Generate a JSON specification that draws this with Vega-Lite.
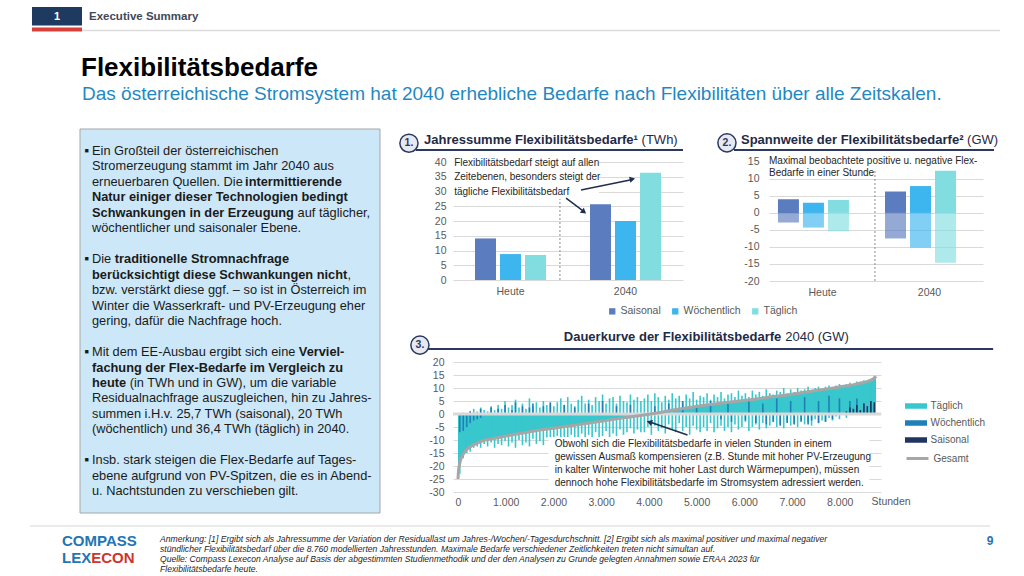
{
  "$schema": "https://vega.github.io/schema/vega-lite/v6.json",
  "padding": 0,
  "background": "white",
  "spacing": 0,
  "config": {
    "font": "Liberation Sans",
    "view": {"stroke": null},
    "locale": {"number": {"decimal": ",", "thousands": ".", "grouping": [3], "currency": ["", " €"], "minus": "-"}},
    "axis": {"labelFont": "Liberation Sans", "labelFontSize": 10.5, "labelColor": "#595959", "domain": false, "ticks": false, "gridColor": "#d9d9d9", "gridWidth": 1, "labelOverlap": false},
    "axisX": {"grid": false},
    "axisY": {"grid": true},
    "legend": {"labelFont": "Liberation Sans", "labelColor": "#595959", "padding": 0},
    "concat": {"spacing": 0}
  },
  "datasets": {
    "one": [{"k": 1}],
    "textbox": [
      {"line": 0, "seg": 0, "text": "Ein Großteil der österreichischen", "emphasis": false, "bullet": true},
      {"line": 1, "seg": 0, "text": "Stromerzeugung stammt im Jahr 2040 aus", "emphasis": false},
      {"line": 2, "seg": 0, "text": "erneuerbaren Quellen. Die", "emphasis": false},
      {"line": 2, "seg": 1, "text": "intermittierende", "emphasis": true},
      {"line": 3, "seg": 0, "text": "Natur einiger dieser Technologien bedingt", "emphasis": true},
      {"line": 4, "seg": 0, "text": "Schwankungen in der Erzeugung", "emphasis": true},
      {"line": 4, "seg": 1, "text": "auf täglicher,", "emphasis": false},
      {"line": 5, "seg": 0, "text": "wöchentlicher und saisonaler Ebene.", "emphasis": false},
      {"line": 7, "seg": 0, "text": "Die", "emphasis": false, "bullet": true},
      {"line": 7, "seg": 1, "text": "traditionelle Stromnachfrage", "emphasis": true},
      {"line": 8, "seg": 0, "text": "berücksichtigt diese Schwankungen nicht", "emphasis": true},
      {"line": 8, "seg": 1, "text": ",", "emphasis": false},
      {"line": 9, "seg": 0, "text": "bzw. verstärkt diese ggf. – so ist in Österreich im", "emphasis": false},
      {"line": 10, "seg": 0, "text": "Winter die Wasserkraft- und PV-Erzeugung eher", "emphasis": false},
      {"line": 11, "seg": 0, "text": "gering, dafür die Nachfrage hoch.", "emphasis": false},
      {"line": 13, "seg": 0, "text": "Mit dem EE-Ausbau ergibt sich eine", "emphasis": false, "bullet": true},
      {"line": 13, "seg": 1, "text": "Verviel-", "emphasis": true},
      {"line": 14, "seg": 0, "text": "fachung der Flex-Bedarfe im Vergleich zu", "emphasis": true},
      {"line": 15, "seg": 0, "text": "heute", "emphasis": true},
      {"line": 15, "seg": 1, "text": "(in TWh und in GW), um die variable", "emphasis": false},
      {"line": 16, "seg": 0, "text": "Residualnachfrage auszugleichen, hin zu Jahres-", "emphasis": false},
      {"line": 17, "seg": 0, "text": "summen i.H.v. 25,7 TWh (saisonal), 20 TWh", "emphasis": false},
      {"line": 18, "seg": 0, "text": "(wöchentlich) und 36,4 TWh (täglich) in 2040.", "emphasis": false},
      {"line": 20, "seg": 0, "text": "Insb. stark steigen die Flex-Bedarfe auf Tages-", "emphasis": false, "bullet": true},
      {"line": 21, "seg": 0, "text": "ebene aufgrund von PV-Spitzen, die es in Abend-", "emphasis": false},
      {"line": 22, "seg": 0, "text": "u. Nachtstunden zu verschieben gilt.", "emphasis": false}
    ],
    "jahr": [
      {"period": "Heute", "series": "Saisonal", "value": 14.1},
      {"period": "Heute", "series": "Wöchentlich", "value": 8.8},
      {"period": "Heute", "series": "Täglich", "value": 8.5},
      {"period": "2040", "series": "Saisonal", "value": 25.7},
      {"period": "2040", "series": "Wöchentlich", "value": 20.0},
      {"period": "2040", "series": "Täglich", "value": 36.4}
    ],
    "spann": [
      {"period": "Heute", "series": "Saisonal", "max": 4.0, "min": -2.8},
      {"period": "Heute", "series": "Wöchentlich", "max": 3.0, "min": -4.3},
      {"period": "Heute", "series": "Täglich", "max": 3.8, "min": -5.4},
      {"period": "2040", "series": "Saisonal", "max": 6.3, "min": -7.5},
      {"period": "2040", "series": "Wöchentlich", "max": 7.9, "min": -10.2},
      {"period": "2040", "series": "Täglich", "max": 12.4, "min": -14.6}
    ],
    "gesamt": [
      {"h": 0, "g": -25}, {"h": 10, "g": -22}, {"h": 30, "g": -19.5}, {"h": 60, "g": -17.3}, {"h": 100, "g": -15.8},
      {"h": 160, "g": -14.1}, {"h": 230, "g": -13}, {"h": 300, "g": -12.1}, {"h": 400, "g": -11.2}, {"h": 500, "g": -10.4},
      {"h": 650, "g": -9.7}, {"h": 800, "g": -9.2}, {"h": 1000, "g": -8.5}, {"h": 1200, "g": -7.8}, {"h": 1500, "g": -6.8},
      {"h": 2000, "g": -5.5}, {"h": 2500, "g": -4.1}, {"h": 3000, "g": -2.8}, {"h": 3500, "g": -1.4}, {"h": 3900, "g": -0.4},
      {"h": 4200, "g": 0.5}, {"h": 4500, "g": 1.5}, {"h": 5000, "g": 2.9}, {"h": 5500, "g": 4.1}, {"h": 6000, "g": 5.2},
      {"h": 6500, "g": 6.4}, {"h": 7000, "g": 7.6}, {"h": 7500, "g": 9.0}, {"h": 8000, "g": 10.4}, {"h": 8300, "g": 11.3},
      {"h": 8500, "g": 12.1}, {"h": 8650, "g": 13.0}, {"h": 8730, "g": 13.9}, {"h": 8760, "g": 14.5}
    ],
    "bins": [
      {"h":37,"series":"Täglich","neg":-23},{"h":110,"series":"Täglich","pos":0.5,"neg":-17},{"h":183,"series":"Täglich","neg":-15},
      {"h":256,"series":"Täglich","pos":1,"neg":-14.5},{"h":329,"series":"Täglich","pos":2,"neg":-13},{"h":402,"series":"Täglich","pos":1,"neg":-12.5},
      {"h":475,"series":"Täglich","pos":2.5,"neg":-13},{"h":548,"series":"Täglich","pos":1.5,"neg":-11.5},{"h":621,"series":"Täglich","pos":1,"neg":-12.5},
      {"h":694,"series":"Täglich","pos":3,"neg":-11},{"h":767,"series":"Täglich","pos":1.5,"neg":-13},{"h":840,"series":"Täglich","pos":3.5,"neg":-11.5},
      {"h":913,"series":"Täglich","pos":2,"neg":-12},{"h":986,"series":"Täglich","pos":5,"neg":-10.5},{"h":1059,"series":"Täglich","pos":2.5,"neg":-12.5},
      {"h":1132,"series":"Täglich","pos":3.5,"neg":-11},{"h":1205,"series":"Täglich","pos":5.5,"neg":-13},{"h":1278,"series":"Täglich","pos":2.5,"neg":-10},
      {"h":1351,"series":"Täglich","pos":4,"neg":-12},{"h":1424,"series":"Täglich","pos":2,"neg":-11},{"h":1497,"series":"Täglich","pos":6,"neg":-12.5},
      {"h":1570,"series":"Täglich","pos":3,"neg":-9.5},{"h":1643,"series":"Täglich","pos":4.5,"neg":-11.5},{"h":1716,"series":"Täglich","pos":2.5,"neg":-10.5},
      {"h":1789,"series":"Täglich","pos":5,"neg":-12},{"h":1862,"series":"Täglich","pos":3.5,"neg":-9},{"h":1935,"series":"Täglich","pos":4,"neg":-11},
      {"h":2008,"series":"Täglich","pos":3,"neg":-10},{"h":2081,"series":"Täglich","pos":4.5,"neg":-8.5},{"h":2154,"series":"Täglich","pos":6,"neg":-10.5},
      {"h":2227,"series":"Täglich","pos":3.5,"neg":-9},{"h":2300,"series":"Täglich","pos":6.5,"neg":-11},{"h":2373,"series":"Täglich","pos":4,"neg":-8},
      {"h":2446,"series":"Täglich","pos":3,"neg":-10},{"h":2519,"series":"Täglich","pos":5.5,"neg":-9.5},{"h":2592,"series":"Täglich","pos":7,"neg":-7.5},
      {"h":2665,"series":"Täglich","pos":4,"neg":-9.5},{"h":2738,"series":"Täglich","pos":5.5,"neg":-8},{"h":2811,"series":"Täglich","pos":3.5,"neg":-10},
      {"h":2884,"series":"Täglich","pos":6.5,"neg":-7},{"h":2957,"series":"Täglich","pos":5,"neg":-9},{"h":3030,"series":"Täglich","pos":7.5,"neg":-8.5},
      {"h":3103,"series":"Täglich","pos":4,"neg":-6.5},{"h":3176,"series":"Täglich","pos":6,"neg":-9},{"h":3249,"series":"Täglich","pos":6.5,"neg":-7.5},
      {"h":3322,"series":"Täglich","pos":4,"neg":-8.5},{"h":3395,"series":"Täglich","pos":7,"neg":-6},{"h":3468,"series":"Täglich","pos":5,"neg":-8},
      {"h":3541,"series":"Täglich","pos":4.5,"neg":-7},{"h":3614,"series":"Täglich","pos":7.5,"neg":-5.5},{"h":3687,"series":"Täglich","pos":5.5,"neg":-7.5},
      {"h":3760,"series":"Täglich","pos":6.5,"neg":-6},{"h":3833,"series":"Täglich","pos":5,"neg":-7},{"h":3906,"series":"Täglich","pos":6,"neg":-7},
      {"h":3979,"series":"Täglich","pos":7.5,"neg":-5},{"h":4052,"series":"Täglich","pos":5,"neg":-8},{"h":4125,"series":"Täglich","pos":8,"neg":-4.5},
      {"h":4198,"series":"Täglich","pos":6.5,"neg":-6.5},{"h":4271,"series":"Täglich","pos":4.5,"neg":-5.5},{"h":4344,"series":"Täglich","pos":7,"neg":-7.5},
      {"h":4417,"series":"Täglich","pos":5.5,"neg":-4},{"h":4490,"series":"Täglich","pos":8,"neg":-6},{"h":4563,"series":"Täglich","pos":6,"neg":-7},
      {"h":4636,"series":"Täglich","pos":7,"neg":-3.5},{"h":4709,"series":"Täglich","pos":4.5,"neg":-6.5},{"h":4782,"series":"Täglich","pos":7.5,"neg":-5},
      {"h":4855,"series":"Täglich","pos":6,"neg":-8},{"h":4928,"series":"Täglich","pos":8.5,"neg":-4.5},{"h":5001,"series":"Täglich","pos":5.5,"neg":-6},
      {"h":5074,"series":"Täglich","pos":7,"neg":-7},{"h":5147,"series":"Täglich","pos":6.5,"neg":-5},{"h":5220,"series":"Täglich","pos":8,"neg":-6.5},
      {"h":5293,"series":"Täglich","pos":5.5,"neg":-3.5},{"h":5366,"series":"Täglich","pos":7.5,"neg":-7},{"h":5439,"series":"Täglich","pos":6.5,"neg":-5.5},
      {"h":5512,"series":"Täglich","pos":8.5,"neg":-4.5},{"h":5585,"series":"Täglich","pos":6,"neg":-6.5},{"h":5658,"series":"Täglich","pos":7.5,"neg":-5},
      {"h":5731,"series":"Täglich","pos":8,"neg":-7},{"h":5804,"series":"Täglich","pos":6.5,"neg":-4},{"h":5877,"series":"Täglich","pos":9,"neg":-6},
      {"h":5950,"series":"Täglich","pos":7,"neg":-5},{"h":6023,"series":"Täglich","pos":8,"neg":-3},{"h":6096,"series":"Täglich","pos":6.5,"neg":-6.5},
      {"h":6169,"series":"Täglich","pos":9,"neg":-5},{"h":6242,"series":"Täglich","pos":7.5,"neg":-4},{"h":6315,"series":"Täglich","pos":8.5,"neg":-6},
      {"h":6388,"series":"Täglich","pos":7,"neg":-3.5},{"h":6461,"series":"Täglich","pos":9.5,"neg":-5.5},{"h":6534,"series":"Täglich","pos":8,"neg":-4.5},
      {"h":6607,"series":"Täglich","pos":7.5,"neg":-3},{"h":6680,"series":"Täglich","pos":9,"neg":-5},{"h":6753,"series":"Täglich","pos":8.5,"neg":-4},
      {"h":6826,"series":"Täglich","pos":10,"neg":-5.5},{"h":6899,"series":"Täglich","pos":8,"neg":-3},{"h":6972,"series":"Täglich","pos":9.5,"neg":-4.5},
      {"h":7045,"series":"Täglich","pos":8.5,"neg":-3.5},{"h":7118,"series":"Täglich","pos":10,"neg":-5},{"h":7191,"series":"Täglich","pos":9,"neg":-2.5},
      {"h":7264,"series":"Täglich","pos":9.5,"neg":-4},{"h":7337,"series":"Täglich","pos":10.5,"neg":-3},{"h":7410,"series":"Täglich","pos":9,"neg":-4.5},
      {"h":7483,"series":"Täglich","pos":10,"neg":-2},{"h":7556,"series":"Täglich","pos":10.5,"neg":-3.5},{"h":7629,"series":"Täglich","pos":9.5,"neg":-2.5},
      {"h":7702,"series":"Täglich","pos":10.5,"neg":-3},{"h":7775,"series":"Täglich","pos":11,"neg":-1.5},{"h":7848,"series":"Täglich","pos":10,"neg":-2.5},
      {"h":7921,"series":"Täglich","pos":11,"neg":-1},{"h":7994,"series":"Täglich","pos":11.5,"neg":-2},{"h":8067,"series":"Täglich","pos":11},
      {"h":8140,"series":"Täglich","pos":11.5,"neg":-1.5},{"h":8213,"series":"Täglich","pos":12},{"h":8286,"series":"Täglich","pos":11.5},
      {"h":8359,"series":"Täglich","pos":12.5},{"h":8432,"series":"Täglich","pos":12.5},{"h":8505,"series":"Täglich","pos":13},
      {"h":8578,"series":"Täglich","pos":13},{"h":8651,"series":"Täglich","pos":13.5},{"h":8724,"series":"Täglich","pos":14.5},
      {"h":37,"series":"Wöchentlich","neg":-7},{"h":110,"series":"Wöchentlich","neg":-6.5},{"h":183,"series":"Wöchentlich","neg":-5},
      {"h":256,"series":"Wöchentlich","pos":1,"neg":-3.5},{"h":329,"series":"Wöchentlich","neg":-2.5},{"h":402,"series":"Wöchentlich","neg":-2},
      {"h":475,"series":"Wöchentlich","pos":2,"neg":-1.5},{"h":694,"series":"Wöchentlich","pos":2.5},{"h":840,"series":"Wöchentlich","pos":2},
      {"h":986,"series":"Wöchentlich","pos":3.5},{"h":1132,"series":"Wöchentlich","pos":1.5},{"h":1205,"series":"Wöchentlich","pos":4.5},
      {"h":1351,"series":"Wöchentlich","pos":3},{"h":1497,"series":"Wöchentlich","pos":2.5},{"h":1570,"series":"Wöchentlich","pos":4},
      {"h":1789,"series":"Wöchentlich","pos":3},{"h":1935,"series":"Wöchentlich","pos":4.5},{"h":2227,"series":"Wöchentlich","pos":3.5},
      {"h":2446,"series":"Wöchentlich","pos":2.5},{"h":2738,"series":"Wöchentlich","pos":4},{"h":3030,"series":"Wöchentlich","pos":5},
      {"h":3322,"series":"Wöchentlich","pos":3},{"h":3614,"series":"Wöchentlich","pos":3.5},{"h":4125,"series":"Wöchentlich","pos":3},
      {"h":4417,"series":"Wöchentlich","pos":4},{"h":4709,"series":"Wöchentlich","pos":5},{"h":5001,"series":"Wöchentlich","pos":3.5},
      {"h":5293,"series":"Wöchentlich","pos":5},{"h":5512,"series":"Wöchentlich","neg":-2},{"h":5658,"series":"Wöchentlich","pos":4},
      {"h":5731,"series":"Wöchentlich","neg":-3},{"h":6023,"series":"Wöchentlich","neg":-2.5},{"h":6096,"series":"Wöchentlich","pos":5.5},
      {"h":6242,"series":"Wöchentlich","neg":-3.5},{"h":6388,"series":"Wöchentlich","pos":4},{"h":6461,"series":"Wöchentlich","neg":-4},
      {"h":6607,"series":"Wöchentlich","neg":-3},{"h":6680,"series":"Wöchentlich","pos":6},{"h":6753,"series":"Wöchentlich","neg":-4.5},
      {"h":6899,"series":"Wöchentlich","neg":-3.5},{"h":6972,"series":"Wöchentlich","pos":5},{"h":7045,"series":"Wöchentlich","neg":-4},
      {"h":7191,"series":"Wöchentlich","neg":-3},{"h":7264,"series":"Wöchentlich","pos":6.5},{"h":7337,"series":"Wöchentlich","neg":-4},
      {"h":7410,"series":"Wöchentlich","neg":-2.5},{"h":7556,"series":"Wöchentlich","pos":5,"neg":-3.5},{"h":7702,"series":"Wöchentlich","neg":-3},
      {"h":7775,"series":"Wöchentlich","pos":7},{"h":7848,"series":"Wöchentlich","neg":-2},{"h":7994,"series":"Wöchentlich","pos":6},
      {"h":8213,"series":"Wöchentlich","pos":5},{"h":8359,"series":"Wöchentlich","pos":6},{"h":8505,"series":"Wöchentlich","pos":4},
      {"h":8651,"series":"Wöchentlich","pos":5},
      {"h":8140,"series":"Saisonal","pos":1},{"h":8213,"series":"Saisonal","pos":2.5},{"h":8286,"series":"Saisonal","pos":2},
      {"h":8359,"series":"Saisonal","pos":3.5},{"h":8432,"series":"Saisonal","pos":1.5},{"h":8505,"series":"Saisonal","pos":4},
      {"h":8578,"series":"Saisonal","pos":3},{"h":8651,"series":"Saisonal","pos":5},{"h":8724,"series":"Saisonal","pos":4.5}
    ]
  },
  "vconcat": [
    {
      "width": 944, "height": 128,
      "data": {"name": "one"},
      "layer": [
        {"mark": {"type": "rect", "opacity": 0}, "encoding": {"x": {"datum": 0, "scale": {"domain": [80, 1024], "nice": false, "zero": false}, "axis": null}, "x2": {"datum": 80}, "y": {"datum": 0, "scale": {"domain": [0, 128], "reverse": true, "nice": false, "zero": false}, "axis": null}, "y2": {"datum": 1}}},
        {"mark": {"type": "rect", "color": "#1f3a60"}, "encoding": {"x": {"datum": 32}, "x2": {"datum": 82}, "y": {"datum": 7}, "y2": {"datum": 25.5}}},
        {"mark": {"type": "rect", "color": "#d6403a"}, "encoding": {"x": {"datum": 32}, "x2": {"datum": 82}, "y": {"datum": 27.5}, "y2": {"datum": 31.5}}},
        {"mark": {"type": "rule", "color": "#dcdcdc", "strokeWidth": 1.5}, "encoding": {"x": {"datum": 82}, "x2": {"datum": 1000}, "y": {"datum": 30.5}}},
        {"mark": {"type": "text", "color": "white", "fontWeight": "bold", "fontSize": 11}, "encoding": {"x": {"datum": 57}, "y": {"datum": 16.5}, "text": {"value": "1"}}},
        {"mark": {"type": "text", "align": "left", "color": "#404858", "fontWeight": "bold", "fontSize": 11.5}, "encoding": {"x": {"datum": 89}, "y": {"datum": 16.5}, "text": {"value": "Executive Summary"}}},
        {"mark": {"type": "text", "align": "left", "color": "#000000", "fontWeight": "bold", "fontSize": 26}, "encoding": {"x": {"datum": 81}, "y": {"datum": 68}, "text": {"value": "Flexibilitätsbedarfe"}}},
        {"mark": {"type": "text", "align": "left", "color": "#1f88c2", "fontSize": 19}, "encoding": {"x": {"datum": 82}, "y": {"datum": 94}, "text": {"value": "Das österreichische Stromsystem hat 2040 erhebliche Bedarfe nach Flexibilitäten über alle Zeitskalen."}}}
      ]
    },
    {
      "hconcat": [
        {
          "width": 300, "height": 363,
          "data": {"name": "textbox"},
          "layer": [
            {"data": {"name": "one"}, "mark": {"type": "rect", "opacity": 0}, "encoding": {"x": {"datum": 0, "scale": {"domain": [0, 300], "nice": false, "zero": false}, "axis": null}, "x2": {"datum": 316}, "y": {"datum": -1.401, "scale": {"domain": [-0.045, 23.395], "reverse": true, "nice": false, "zero": false}, "axis": null}, "y2": {"datum": 23.589}}},
            {"data": {"name": "one"}, "mark": {"type": "rect", "fill": "#cce8f8", "stroke": "#a6a6a6", "strokeWidth": 1}, "encoding": {"x": {"datum": 0}, "x2": {"datum": 300}, "y": {"datum": -1.401}, "y2": {"datum": 23.395}}},
            {"transform": [{"filter": "datum.seg == 0 && !datum.emphasis"}], "mark": {"type": "text", "align": "left", "baseline": "middle", "fontSize": 12.8, "color": "#1a1a1a"}, "encoding": {"x": {"datum": 12}, "y": {"field": "line", "type": "quantitative"}, "text": {"field": "text"}}},
            {"transform": [{"filter": "datum.seg == 0 && datum.emphasis"}], "mark": {"type": "text", "align": "left", "baseline": "middle", "fontSize": 12.8, "fontWeight": "bold", "color": "#1a1a1a"}, "encoding": {"x": {"datum": 12}, "y": {"field": "line", "type": "quantitative"}, "text": {"field": "text"}}},
            {"transform": [{"filter": "datum.seg == 1 && datum.line == 2"}], "mark": {"type": "text", "align": "left", "baseline": "middle", "fontSize": 12.8, "fontWeight": "bold", "color": "#1a1a1a"}, "encoding": {"x": {"datum": 165.1}, "y": {"field": "line", "type": "quantitative"}, "text": {"field": "text"}}},
            {"transform": [{"filter": "datum.seg == 1 && datum.line == 4"}], "mark": {"type": "text", "align": "left", "baseline": "middle", "fontSize": 12.8, "color": "#1a1a1a"}, "encoding": {"x": {"datum": 217.6}, "y": {"field": "line", "type": "quantitative"}, "text": {"field": "text"}}},
            {"transform": [{"filter": "datum.seg == 1 && datum.line == 7"}], "mark": {"type": "text", "align": "left", "baseline": "middle", "fontSize": 12.8, "fontWeight": "bold", "color": "#1a1a1a"}, "encoding": {"x": {"datum": 34.8}, "y": {"field": "line", "type": "quantitative"}, "text": {"field": "text"}}},
            {"transform": [{"filter": "datum.seg == 1 && datum.line == 8"}], "mark": {"type": "text", "align": "left", "baseline": "middle", "fontSize": 12.8, "color": "#1a1a1a"}, "encoding": {"x": {"datum": 267.4}, "y": {"field": "line", "type": "quantitative"}, "text": {"field": "text"}}},
            {"transform": [{"filter": "datum.seg == 1 && datum.line == 13"}], "mark": {"type": "text", "align": "left", "baseline": "middle", "fontSize": 12.8, "fontWeight": "bold", "color": "#1a1a1a"}, "encoding": {"x": {"datum": 218.8}, "y": {"field": "line", "type": "quantitative"}, "text": {"field": "text"}}},
            {"transform": [{"filter": "datum.seg == 1 && datum.line == 15"}], "mark": {"type": "text", "align": "left", "baseline": "middle", "fontSize": 12.8, "color": "#1a1a1a"}, "encoding": {"x": {"datum": 49.7}, "y": {"field": "line", "type": "quantitative"}, "text": {"field": "text"}}},
            {"transform": [{"filter": "datum.bullet == true"}], "mark": {"type": "text", "align": "left", "baseline": "middle", "fontSize": 7, "color": "#1a1a1a", "text": "■"}, "encoding": {"x": {"datum": 4.5}, "y": {"field": "line", "type": "quantitative"}}}
          ]
        },
        {
          "vconcat": [
            {
              "hconcat": [
                {
                  "width": 230, "height": 130,
                  "layer": [
                    {
                      "data": {"name": "jahr"},
                      "mark": {"type": "bar"},
                      "encoding": {
                        "x": {"field": "period", "type": "nominal", "sort": ["Heute", "2040"], "title": null, "scale": {"paddingInner": 0.348, "paddingOuter": 0.174}, "axis": {"labelPadding": 6, "labelAngle": 0}},
                        "xOffset": {"field": "series", "type": "nominal", "sort": ["Saisonal", "Wöchentlich", "Täglich"], "scale": {"paddingInner": 0.16, "paddingOuter": 0.08}},
                        "y": {"field": "value", "type": "quantitative", "title": null, "stack": null, "scale": {"domain": [0, 44.1], "nice": false}, "axis": {"values": [0, 5, 10, 15, 20, 25, 30, 35, 40], "tickCount": 50, "labelPadding": 7, "labelOverlap": false}},
                        "color": {"field": "series", "type": "nominal", "scale": {"domain": ["Saisonal", "Wöchentlich", "Täglich"], "range": ["#5b7cbf", "#3db5ee", "#82dde0"]}, "legend": {"orient": "none", "legendX": 527, "legendY": 306, "direction": "horizontal", "title": null, "symbolType": "square", "symbolSize": 40, "labelFontSize": 10.5, "columnPadding": 9, "labelOffset": 3, "symbolStrokeWidth": 0}}
                      }
                    },
                    {
                      "data": {"name": "one"},
                      "layer": [
                        {"mark": {"type": "rect", "opacity": 0}, "encoding": {"x": {"datum": -0.487, "scale": {"domain": [0, 2], "nice": false, "zero": false}, "axis": null}, "x2": {"datum": 2.0}, "y": {"datum": -15.93}, "y2": {"datum": 51.22}}},
                        {"mark": {"type": "rect", "color": "white"}, "encoding": {"x": {"datum": 0}, "x2": {"datum": 1.27}, "y": {"datum": 28.7}, "y2": {"datum": 42.5}}},
                        {"mark": {"type": "rule", "color": "#8c8c8c", "strokeDash": [2, 2], "strokeWidth": 1}, "encoding": {"x": {"datum": 0.93}, "y": {"datum": 0}, "y2": {"datum": 27.5}}},
                        {"mark": {"type": "text", "align": "left", "baseline": "top", "fontSize": 10, "lineHeight": 14.5, "color": "#262626"}, "encoding": {"x": {"datum": 0.01}, "y": {"datum": 41.5}, "text": {"value": ["Flexibilitätsbedarf steigt auf allen", "Zeitebenen, besonders steigt der", "tägliche Flexibilitätsbedarf"]}}},
                        {"mark": {"type": "rule", "color": "#1f2d50", "strokeWidth": 1.5}, "encoding": {"x": {"datum": 1.113}, "x2": {"datum": 1.54}, "y": {"datum": 30.5}, "y2": {"datum": 33.9}}},
                        {"mark": {"type": "point", "shape": "triangle-up", "filled": true, "size": 40, "angle": 78, "color": "#1f2d50", "opacity": 1}, "encoding": {"x": {"datum": 1.56}, "y": {"datum": 34.2}}},
                        {"mark": {"type": "rule", "color": "#1f2d50", "strokeWidth": 1.5}, "encoding": {"x": {"datum": 0.983}, "x2": {"datum": 1.125}, "y": {"datum": 27.8}, "y2": {"datum": 23.6}}},
                        {"mark": {"type": "point", "shape": "triangle-up", "filled": true, "size": 40, "angle": 128, "color": "#1f2d50", "opacity": 1}, "encoding": {"x": {"datum": 1.139}, "y": {"datum": 23.1}}},
                        {"mark": {"type": "rule", "color": "#2b3960", "strokeWidth": 2}, "encoding": {"x": {"datum": -0.322}, "x2": {"datum": 2.0}, "y": {"datum": 44.1}}},
                        {"mark": {"type": "point", "shape": "circle", "filled": true, "size": 330, "fill": "#e8e8f0", "stroke": "#2b3960", "strokeWidth": 1.5, "opacity": 1}, "encoding": {"x": {"datum": -0.383}, "y": {"datum": 46.4}}},
                        {"mark": {"type": "text", "fontWeight": "bold", "fontSize": 10.5, "color": "#2b3960"}, "encoding": {"x": {"datum": -0.383}, "y": {"datum": 46.4}, "text": {"value": "1."}}},
                        {"mark": {"type": "text", "align": "left", "fontWeight": "bold", "fontSize": 13, "color": "#1f2a44"}, "encoding": {"x": {"datum": -0.252}, "y": {"datum": 47.5}, "text": {"value": "Jahressumme Flexibilitätsbedarfe¹"}}},
                        {"mark": {"type": "text", "align": "left", "fontSize": 13, "color": "#1f2a44"}, "encoding": {"x": {"datum": 1.64}, "y": {"datum": 47.5}, "text": {"value": "(TWh)"}}}
                      ]
                    }
                  ],
                  "resolve": {"scale": {"x": "independent"}}
                },
                {
                  "width": 214, "height": 131,
                  "layer": [
                    {
                      "data": {"name": "spann"},
                      "layer": [
                        {
                          "mark": {"type": "bar"},
                          "encoding": {
                            "x": {"field": "period", "type": "nominal", "sort": ["Heute", "2040"], "title": null, "scale": {"paddingInner": 0.131, "paddingOuter": 0.065}, "axis": {"labelPadding": 6, "labelAngle": 0}},
                            "xOffset": {"field": "series", "type": "nominal", "sort": ["Saisonal", "Wöchentlich", "Täglich"], "scale": {"paddingInner": 0.484, "paddingOuter": 0.242}},
                            "y": {"field": "max", "type": "quantitative", "title": null, "stack": null, "scale": {"domain": [-20, 18.5], "nice": false}, "axis": {"values": [-20, -15, -10, -5, 0, 5, 10, 15], "tickCount": 50, "format": "d", "labelPadding": 10, "labelOverlap": false}},
                            "color": {"field": "series", "type": "nominal", "scale": {"domain": ["Saisonal", "Wöchentlich", "Täglich"], "range": ["#5b7cbf", "#3db5ee", "#82dde0"]}, "legend": null}
                          }
                        },
                        {
                          "mark": {"type": "bar", "opacity": 0.65},
                          "encoding": {
                            "x": {"field": "period", "type": "nominal", "sort": ["Heute", "2040"], "title": null},
                            "xOffset": {"field": "series", "type": "nominal", "sort": ["Saisonal", "Wöchentlich", "Täglich"]},
                            "y": {"field": "min", "type": "quantitative", "title": null, "stack": null},
                            "color": {"field": "series", "type": "nominal", "legend": null}
                          }
                        }
                      ]
                    },
                    {
                      "data": {"name": "one"},
                      "layer": [
                        {"mark": {"type": "rect", "color": "white"}, "encoding": {"x": {"datum": 0, "scale": {"domain": [0, 2], "nice": false, "zero": false}, "axis": null}, "x2": {"datum": 2}, "y": {"datum": 13.8}, "y2": {"datum": 17.2}}},
                        {"mark": {"type": "rule", "color": "#8c8c8c", "strokeDash": [2, 2], "strokeWidth": 1}, "encoding": {"x": {"datum": 0.99}, "y": {"datum": -20}, "y2": {"datum": 12.6}}},
                        {"mark": {"type": "text", "align": "left", "baseline": "top", "fontSize": 10, "lineHeight": 12, "color": "#262626"}, "encoding": {"x": {"datum": 0}, "y": {"datum": 16.6}, "text": {"value": ["Maximal beobachtete positive u. negative Flex-", "Bedarfe in einer Stunde"]}}},
                        {"mark": {"type": "rule", "color": "#2b3960", "strokeWidth": 2}, "encoding": {"x": {"datum": -0.327}, "x2": {"datum": 2.103}, "y": {"datum": 18.5}}},
                        {"mark": {"type": "point", "shape": "circle", "filled": true, "size": 330, "fill": "#e8e8f0", "stroke": "#2b3960", "strokeWidth": 1.5, "opacity": 1}, "encoding": {"x": {"datum": -0.393}, "y": {"datum": 20.6}}},
                        {"mark": {"type": "text", "fontWeight": "bold", "fontSize": 10.5, "color": "#2b3960"}, "encoding": {"x": {"datum": -0.393}, "y": {"datum": 20.6}, "text": {"value": "2."}}},
                        {"mark": {"type": "text", "align": "left", "fontWeight": "bold", "fontSize": 13, "color": "#1f2a44"}, "encoding": {"x": {"datum": -0.262}, "y": {"datum": 21.5}, "text": {"value": "Spannweite der Flexibilitätsbedarfe²"}}},
                        {"mark": {"type": "text", "align": "left", "fontSize": 13, "color": "#1f2a44"}, "encoding": {"x": {"datum": 1.851}, "y": {"datum": 21.5}, "text": {"value": "(GW)"}}}
                      ]
                    }
                  ],
                  "resolve": {"scale": {"x": "independent"}}
                }
              ],
              "spacing": 86,
              "bounds": "flush"
            },
            {
              "width": 428, "height": 143,
              "layer": [
                {
                  "data": {"name": "gesamt"},
                  "mark": {"type": "area", "interpolate": "monotone", "color": "#38c7cd"},
                  "encoding": {
                    "x": {"field": "h", "type": "quantitative", "title": "Stunden", "scale": {"domain": [0, 8760], "nice": false, "zero": false}, "axis": {"values": [0, 1000, 2000, 3000, 4000, 5000, 6000, 7000, 8000], "tickCount": 50, "format": ",d", "labelPadding": 5, "labelOverlap": false, "titleX": 418, "titleY": 4, "titleAlign": "left", "titleBaseline": "top", "titleFontWeight": "normal", "titleFontSize": 10.5, "titleColor": "#595959"}},
                    "y": {"field": "g", "type": "quantitative", "title": null, "stack": null, "scale": {"domain": [-30, 25], "nice": false, "zero": false}, "axis": {"values": [-30, -25, -20, -15, -10, -5, 0, 5, 10, 15, 20], "tickCount": 50, "format": "d", "labelPadding": 9, "labelOverlap": false}}
                  }
                },
                {
                  "data": {"name": "bins"},
                  "mark": {"type": "bar", "orient": "vertical", "size": 1.6},
                  "encoding": {
                    "x": {"field": "h", "type": "quantitative", "title": "Stunden"},
                    "y": {"field": "pos", "type": "quantitative", "title": null, "stack": null},
                    "fill": {"field": "series", "type": "nominal", "scale": {"domain": ["Täglich", "Wöchentlich", "Saisonal"], "range": ["#38c7cd", "#1f7fb8", "#1f3562"]}, "legend": {"orient": "none", "legendX": 830.5, "legendY": 400.5, "title": null, "symbolType": "M-2,-0.5H2V0.5H-2Z", "symbolSize": 121, "labelFontSize": 10, "rowPadding": 6, "labelOffset": 9, "symbolStrokeWidth": 0}}
                  }
                },
                {
                  "data": {"name": "bins"},
                  "mark": {"type": "bar", "orient": "vertical", "size": 1.6},
                  "encoding": {
                    "x": {"field": "h", "type": "quantitative", "title": "Stunden"},
                    "y": {"field": "neg", "type": "quantitative", "title": null, "stack": null},
                    "fill": {"field": "series", "type": "nominal"}
                  }
                },
                {
                  "data": {"name": "one"},
                  "mark": {"type": "rule", "color": "#d9d9d9", "strokeWidth": 3},
                  "encoding": {"y": {"datum": 0}}
                },
                {
                  "data": {"name": "gesamt"},
                  "mark": {"type": "line", "interpolate": "monotone", "strokeWidth": 3},
                  "encoding": {
                    "x": {"field": "h", "type": "quantitative", "title": "Stunden"},
                    "y": {"field": "g", "type": "quantitative", "title": null},
                    "stroke": {"datum": "Gesamt", "scale": {"domain": ["Gesamt"], "range": ["#a6a6a6"]}, "legend": {"orient": "none", "legendX": 830.5, "legendY": 451.5, "title": null, "symbolType": "M-2,0H2", "symbolSize": 121, "symbolStrokeWidth": 3, "labelFontSize": 10, "labelOffset": 9}}
                  }
                },
                {
                  "data": {"name": "one"},
                  "layer": [
                    {"mark": {"type": "rect", "opacity": 0}, "encoding": {"x": {"datum": -1146}, "x2": {"datum": 8760}, "y": {"datum": -37.7}, "y2": {"datum": 33.08}}},
                    {"mark": {"type": "rect", "color": "white"}, "encoding": {"x": {"datum": 1900}, "x2": {"datum": 8620}, "y": {"datum": -8.8}, "y2": {"datum": -28.8}}},
                    {"mark": {"type": "text", "align": "left", "baseline": "top", "fontSize": 10, "lineHeight": 13, "color": "#262626"}, "encoding": {"x": {"datum": 2026}, "y": {"datum": -9.5}, "text": {"value": ["Obwohl sich die Flexibilitätsbedarfe in vielen Stunden in einem", "gewissen Ausmaß kompensieren (z.B. Stunde mit hoher PV-Erzeugung", "in kalter Winterwoche mit hoher Last durch Wärmepumpen), müssen", "dennoch hohe Flexibilitätsbedarfe im Stromsystem adressiert werden."]}}},
                    {"mark": {"type": "rule", "color": "#1f2d50", "strokeWidth": 1.5}, "encoding": {"x": {"datum": 4810}, "x2": {"datum": 4050}, "y": {"datum": -8.1}, "y2": {"datum": -3.25}}},
                    {"mark": {"type": "point", "shape": "triangle-up", "filled": true, "size": 40, "angle": 288, "color": "#1f2d50", "opacity": 1}, "encoding": {"x": {"datum": 4011}, "y": {"datum": -3.1}}},
                    {"mark": {"type": "rule", "color": "#2b3960", "strokeWidth": 2}, "encoding": {"x": {"datum": -655}, "x2": {"datum": 11215}, "y": {"datum": 25}}},
                    {"mark": {"type": "point", "shape": "circle", "filled": true, "size": 330, "fill": "#e8e8f0", "stroke": "#2b3960", "strokeWidth": 1.5, "opacity": 1}, "encoding": {"x": {"datum": -798}, "y": {"datum": 26.5}}},
                    {"mark": {"type": "text", "fontWeight": "bold", "fontSize": 10.5, "color": "#2b3960"}, "encoding": {"x": {"datum": -798}, "y": {"datum": 26.5}, "text": {"value": "3."}}},
                    {"mark": {"type": "text", "align": "right", "fontWeight": "bold", "fontSize": 13, "color": "#1f2a44"}, "encoding": {"x": {"datum": 6775}, "y": {"datum": 29.6}, "text": {"value": "Dauerkurve der Flexibilitätsbedarfe"}}},
                    {"mark": {"type": "text", "align": "left", "fontSize": 13, "color": "#1f2a44"}, "encoding": {"x": {"datum": 6857}, "y": {"datum": 29.6}, "text": {"value": "2040 (GW)"}}}
                  ]
                }
              ]
            }
          ],
          "spacing": 0
        }
      ],
      "spacing": 0
    },
    {
      "width": 944, "height": 61,
      "data": {"name": "one"},
      "layer": [
        {"mark": {"type": "rule", "color": "#e3e3e3", "strokeWidth": 1.5}, "encoding": {"x": {"datum": 30, "scale": {"domain": [80, 1024], "nice": false, "zero": false}, "axis": null}, "x2": {"datum": 990}, "y": {"datum": 9, "scale": {"domain": [0, 61], "reverse": true, "nice": false, "zero": false}, "axis": null}}},
        {"mark": {"type": "text", "align": "left", "fontWeight": "bold", "fontSize": 15, "color": "#2375b3"}, "encoding": {"x": {"datum": 62}, "y": {"datum": 24}, "text": {"value": "COMPASS"}}},
        {"mark": {"type": "text", "align": "left", "fontWeight": "bold", "fontSize": 15, "color": "#2375b3"}, "encoding": {"x": {"datum": 62}, "y": {"datum": 41}, "text": {"value": "LEX"}}},
        {"mark": {"type": "text", "align": "left", "fontWeight": "bold", "fontSize": 15, "color": "#d0342c"}, "encoding": {"x": {"datum": 91.2}, "y": {"datum": 41}, "text": {"value": "ECON"}}},
        {"mark": {"type": "text", "align": "left", "baseline": "top", "fontSize": 8.6, "fontStyle": "italic", "lineHeight": 10, "color": "#262626"}, "encoding": {"x": {"datum": 160}, "y": {"datum": 18}, "text": {"value": ["Anmerkung: [1] Ergibt sich als Jahressumme der Variation der Residuallast um Jahres-/Wochen/-Tagesdurchschnitt. [2] Ergibt sich als maximal positiver und maximal negativer", "stündlicher Flexibilitätsbedarf über die 8.760 modellierten Jahresstunden. Maximale Bedarfe verschiedener Zeitlichkeiten treten nicht simultan auf.", "Quelle: Compass Lexecon Analyse auf Basis der abgestimmten Studienmethodik und der den Analysen zu Grunde gelegten Annahmen sowie ERAA 2023 für", "Flexibilitätsbedarfe heute."]}}},
        {"mark": {"type": "text", "fontWeight": "bold", "fontSize": 12, "color": "#2375b3"}, "encoding": {"x": {"datum": 990}, "y": {"datum": 24}, "text": {"value": "9"}}}
      ]
    }
  ]
}
